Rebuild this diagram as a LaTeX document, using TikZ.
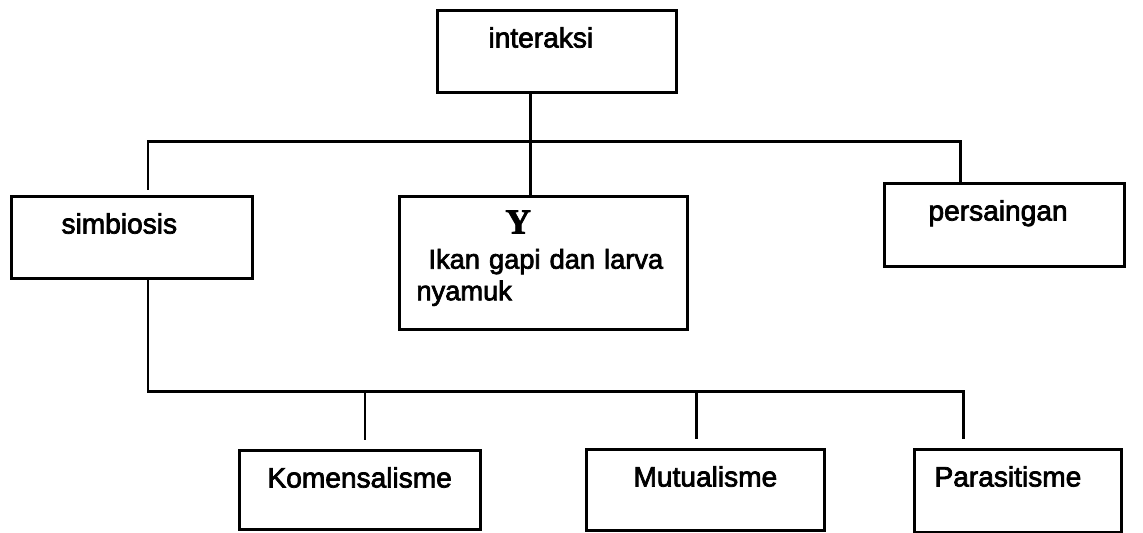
\documentclass[tikz,border=0pt]{standalone}
\usepackage{fontspec}
\setmainfont{Liberation Sans}[RawFeature={embolden=2.6}]
\newfontfamily\yfont{Liberation Serif}[RawFeature={embolden=2.2}]
\tikzstyle{box} = [rectangle, draw=black, line width=1.7pt, anchor=north west, inner ysep=0pt, align=left, text height=0.74cm, font=\fontsize{16}{18.5}\selectfont]
\tikzstyle{line} = [line width=1.7pt]

\begin{document}
\begin{tikzpicture}
    \useasboundingbox (0,0) rectangle (22.86,-10.64);
    %kotak
    \node (interaksi) [box, text width=2.74cm, inner xsep=1.02cm, text depth=0.90cm] at (8.72,-0.18) {interaksi};
    \node (simbiosis) [box, text width=2.82cm, inner xsep=1.00cm, text depth=0.90cm] at (0.20,-3.90) {simbiosis};
    \node (ikan) [box, text width=5.56cm, inner xsep=0.10cm, text depth=1.92cm, font=\fontsize{15.5}{18}\selectfont] at (7.96,-3.90) {\hspace*{2.02cm}{\yfont\bfseries\fontsize{20}{18}\selectfont Y}\\[2pt]\hspace*{0.48cm}Ikan gapi dan larva\\\hspace*{0.24cm}nyamuk};
    \node (persaingan) [box, text width=3.04cm, inner xsep=0.88cm, text depth=0.92cm] at (17.66,-3.64) {persaingan};
    \node (komensal) [box, text width=3.70cm, inner xsep=0.56cm, text depth=0.84cm] at (4.76,-8.98) {Komensalisme};
    \node (mutual) [box, text width=2.88cm, inner xsep=0.94cm, text depth=0.88cm] at (11.70,-8.96) {Mutualisme};
    \node (parasit) [box, text width=3.34cm, inner xsep=0.40cm, text depth=0.92cm] at (18.26,-8.96) {Parasitisme};

    %titik cabang
    \coordinate (atas) at (10.60,-2.82);
    \coordinate (kiri) at (2.96,-2.82);
    \coordinate (kanan) at (19.20,-2.82);
    \coordinate (k1) at (7.30,-7.83);
    \coordinate (k2) at (13.92,-7.83);
    \coordinate (k3) at (19.26,-7.83);

    %garis
    \draw [line](interaksi.south -| atas) -- (ikan.north -| atas);
    \draw [line, shorten >=0.1cm](persaingan.north -| kanan) -- (kanan) -- (kiri) -- (simbiosis.north -| kiri);
    \draw [line, shorten >=0.18cm](simbiosis.south -| kiri) |- (k3) -- (parasit.north -| k3);
    \draw [line, shorten >=0.18cm](k1) -- (komensal.north -| k1);
    \draw [line, shorten >=0.18cm](k2) -- (mutual.north -| k2);
\end{tikzpicture}
\end{document}
